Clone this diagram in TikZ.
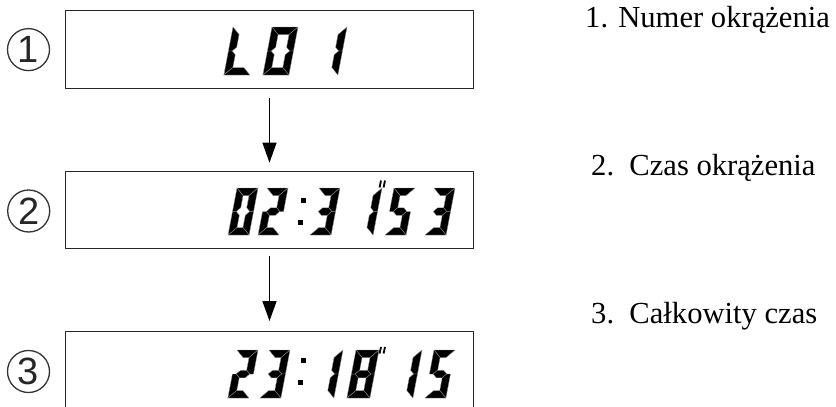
\documentclass[tikz,border=0pt]{standalone}
\usepackage{fontspec}
\setmainfont{Liberation Serif}
\newfontfamily\circfont{Liberation Sans}
\usetikzlibrary{arrows.meta}
\tikzset{
  lcdbox/.style={draw=black!85, line width=1.3pt, minimum width=408.5pt, inner sep=0pt},
  lcdfill/.style={fill=black, draw=black!45, line width=0.35pt, line join=round},
  colondot/.style={fill=black},
  circnum/.style={circle, draw=black!80, line width=1.3pt, minimum size=42pt, inner sep=0pt,
    font=\circfont\fontsize{38}{38}\selectfont, text=black!85},
  arr/.style={draw=black, line width=1.3pt, -{Triangle[length=20pt,width=14pt]}},
  desctext/.style={anchor=base west, inner sep=0pt, font=\fontsize{30.6}{36}\selectfont},
  primetick/.style={draw=black, line width=1.8pt}
}
% seven segment pieces (local coords, y down)
\def\lcdsega{\fill[lcdfill] (0,0) -- (\dW,0) -- (\dW-\dT,\dT) -- (\dT,\dT) -- cycle;}
\def\lcdsegb{\fill[lcdfill] (\dW,0) -- (\dW,\dM) -- (\dW-\dT/2,\dM) -- (\dW-\dT,\dM-\dT/2) -- (\dW-\dT,\dT) -- cycle;}
\def\lcdsegc{\fill[lcdfill] (\dW,\dM) -- (\dW,\dH) -- (\dW-\dT,\dH-\dT) -- (\dW-\dT,\dM+\dT/2) -- (\dW-\dT/2,\dM) -- cycle;}
\def\lcdsegd{\fill[lcdfill] (0,\dH) -- (\dW,\dH) -- (\dW-\dT,\dH-\dT) -- (\dT,\dH-\dT) -- cycle;}
\def\lcdsege{\fill[lcdfill] (0,\dM) -- (\dT/2,\dM) -- (\dT,\dM+\dT/2) -- (\dT,\dH-\dT) -- (0,\dH) -- cycle;}
\def\lcdsegf{\fill[lcdfill] (0,0) -- (\dT,\dT) -- (\dT,\dM-\dT/2) -- (\dT/2,\dM) -- (0,\dM) -- cycle;}
\def\lcdsegg{\fill[lcdfill] (\dT/2,\dM) -- (\dT,\dM-\dT/2) -- (\dW-\dT,\dM-\dT/2) -- (\dW-\dT/2,\dM) -- (\dW-\dT,\dM+\dT/2) -- (\dT,\dM+\dT/2) -- cycle;}
\newcommand{\lcddigit}[5]{%
  \begin{scope}[shift={(#1,#2)}, xslant=0.19]
    \def\dW{#3}\def\dH{#4}\def\dT{7.5}\pgfmathsetmacro\dM{#4/2}
    \foreach \s in {#5}{\csname lcdseg\s\endcsname}
  \end{scope}}
\begin{document}
\begin{tikzpicture}[x=1pt, y=-1pt]
  \path[use as bounding box, clip] (0,0) rectangle (836,407);
  % boxes
  \node[lcdbox, minimum height=77.6pt] (b1) at (269.5,49.5) {};
  \node[lcdbox, minimum height=76.6pt] (b2) at (269.5,210) {};
  \node[lcdbox, minimum height=77pt] (b3) at (269.5,370.2) {};
  % arrows
  \draw[arr, shorten <=9pt, shorten >=8.4pt] (b1) -- (b2);
  \draw[arr, shorten <=6.7pt, shorten >=10pt] (b2) -- (b3);
  % circled numbers
  \node[circnum] (c1) at (28.5,49.6) {1};
  \node[circnum] (c2) at (28.7,211) {2};
  \node[circnum] (c3) at (28.5,371.5) {3};
  % descriptions
  \node[desctext] (t1) at (585,27) {1. Numer okrążenia};
  \node[desctext] (t2) at (591,175) {2.~~Czas okrążenia};
  \node[desctext] (t3) at (591,323) {3.~~Całkowity czas};
  % display 1: L01
  \lcddigit{233}{27}{26}{48}{f,e,d}
  \lcddigit{272}{27}{26}{48}{a,b,c,d,e,f}
  \lcddigit{326}{27}{21}{48}{b,c}
  % display 2: 02:31"53
  \lcddigit{237}{188}{21}{47}{a,b,c,d,e,f}
  \lcddigit{267}{188}{21}{47}{a,b,g,e,d}
  \fill[colondot] (301,198) rectangle (306,203);
  \fill[colondot] (298,220) rectangle (303,225);
  \lcddigit{319}{188}{21}{47}{a,b,g,c,d}
  \lcddigit{361}{188}{21}{47}{b,c}
  \draw[primetick] (381,180.5) -- (379.6,187.5);
  \draw[primetick] (385,180.5) -- (383.6,187.5);
  \lcddigit{394}{188}{21}{47}{a,f,g,c,d}
  \lcddigit{434}{188}{21}{47}{a,b,g,c,d}
  % display 3: 23:18"15
  \lcddigit{237}{350}{21}{48}{a,b,g,e,d}
  \lcddigit{269}{350}{21}{48}{a,b,g,c,d}
  \fill[colondot] (301,358) rectangle (306,363);
  \fill[colondot] (298,380) rectangle (303,385);
  \lcddigit{322}{350}{21}{48}{b,c}
  \lcddigit{356}{350}{23}{48}{a,b,c,d,e,f,g}
  \draw[primetick] (381,347) -- (379.6,353.5);
  \draw[primetick] (385,347) -- (383.6,353.5);
  \lcddigit{401}{350}{21}{48}{b,c}
  \lcddigit{434}{350}{21}{48}{a,f,g,c,d}
\end{tikzpicture}
\end{document}
